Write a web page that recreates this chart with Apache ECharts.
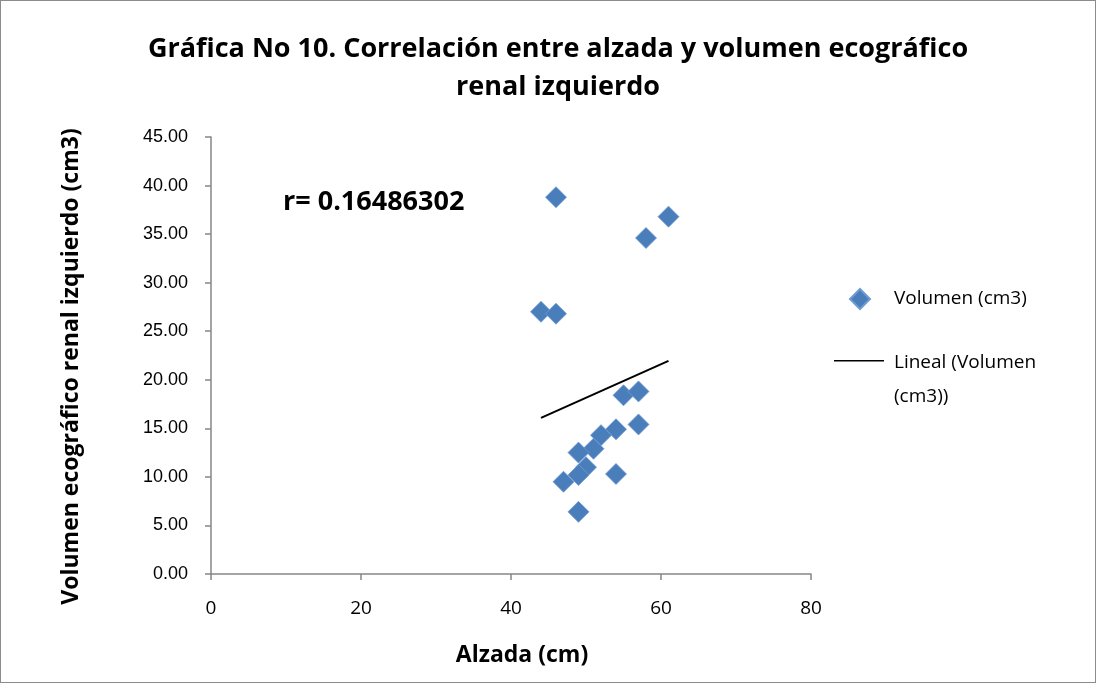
<!DOCTYPE html>
<html>
<head>
<meta charset="utf-8">
<script src="https://cdn.jsdelivr.net/npm/echarts@6/dist/echarts.min.js"></script>
<style>
  html, body { margin: 0; padding: 0; background: #fff; }
  #chart { width: 1096px; height: 683px; box-sizing: border-box; border: 1px solid #8c8c8c; }
</style>
</head>
<body>
<div id="chart"></div>
<script>
// Alzada (cm) and left-kidney ultrasound volume (cm3) per animal
const alzada = [46, 61, 58, 44, 46, 55, 57, 57, 54, 52, 51, 49, 50, 49, 54, 47, 49];
const volumen = [38.8, 36.8, 34.6, 27.0, 26.8, 18.4, 18.8, 15.4, 14.9, 14.3, 12.9, 12.5, 11.0, 10.2, 10.3, 9.5, 6.4];
const rText = 'r= 0.16486302';
const titleLines = ['Gráfica No 10. Correlación entre alzada y volumen ecográfico', 'renal izquierdo'];
const scatterName = 'Volumen (cm3)';
const trendName = 'Lineal (Volumen (cm3))';
const trendLegendLines = ['Lineal (Volumen', '(cm3))'];

const points = alzada.map((x, i) => [x, volumen[i]]);

// Least-squares trend line over the observed alzada range
const n = alzada.length;
const mx = alzada.reduce((a, b) => a + b, 0) / n;
const my = volumen.reduce((a, b) => a + b, 0) / n;
let sxy = 0, sxx = 0;
for (let i = 0; i < n; i++) {
  sxy += (alzada[i] - mx) * (volumen[i] - my);
  sxx += (alzada[i] - mx) ** 2;
}
const slope = sxy / sxx;
const intercept = my - slope * mx;
const xMin = Math.min(...alzada), xMax = Math.max(...alzada);
const trend = [[xMin, intercept + slope * xMin], [xMax, intercept + slope * xMax]];

const font = '"Open Sans", "Noto Sans", sans-serif';
const legendText = { fontFamily: font, fontSize: 19, color: '#000', lineHeight: 34 };
// Legend line icon: the stroke sits on the first text row of a two-row label
const trendIcon = 'path://M0,0L0.01,0L0.01,0.01Z M0,14L50,14L50,15.6L0,15.6Z M50,68L50.01,68L50.01,67.99Z';

const chart = echarts.init(document.getElementById('chart'));
chart.setOption({
  animation: false,
  textStyle: { fontFamily: font },
  title: {
    text: titleLines.join('\n'),
    left: 552,
    textAlign: 'center',
    top: 24,
    textStyle: { fontFamily: font, fontSize: 27, fontWeight: 'bold', color: '#000', lineHeight: 38 }
  },
  grid: { left: 210, right: 284, top: 136, bottom: 108, containLabel: false },
  xAxis: {
    type: 'value', min: 0, max: 80, interval: 20,
    name: 'Alzada (cm)', nameLocation: 'middle', nameGap: 70,
    nameTextStyle: { fontFamily: font, fontSize: 23, fontWeight: 'bold', color: '#000', padding: [0, 0, 0, 22] },
    axisLine: { show: true, lineStyle: { color: '#868686', width: 1.5 } },
    axisTick: { show: true, length: 6, lineStyle: { color: '#868686', width: 1.5 } },
    axisLabel: { fontSize: 19, color: '#000', margin: 25 },
    splitLine: { show: false }
  },
  yAxis: {
    type: 'value', min: 0, max: 45, interval: 5,
    name: 'Volumen ecográfico renal izquierdo (cm3)', nameLocation: 'middle', nameGap: 128, nameRotate: 90,
    nameTextStyle: { fontFamily: font, fontSize: 23, fontWeight: 'bold', color: '#000', padding: [0, 22, 0, 0] },
    axisLine: { show: true, lineStyle: { color: '#868686', width: 1.5 } },
    axisTick: { show: true, length: 6, lineStyle: { color: '#868686', width: 1.5 } },
    axisLabel: { fontFamily: '"Liberation Sans", Arial, sans-serif', fontSize: 18, color: '#000', margin: 23,
      formatter: v => v.toFixed(2) },
    splitLine: { show: false }
  },
  legend: [
    {
      left: 843, top: 276,
      itemWidth: 20, itemHeight: 20, itemGap: 10,
      textStyle: Object.assign({}, legendText, { padding: [0, 0, 0, 19] }),
      data: [{ name: scatterName, icon: 'diamond' }]
    },
    {
      left: 828, top: 340,
      itemWidth: 50, itemHeight: 68, itemGap: 10,
      textStyle: Object.assign({}, legendText, { padding: [0, 0, 0, 5] }),
      formatter: () => trendLegendLines.join('\n'),
      data: [{ name: trendName, icon: trendIcon }]
    }
  ],
  graphic: [{
    type: 'text', left: 282, top: 188,
    style: { text: rText, fontFamily: font, fontSize: 27, fontWeight: 'bold', fill: '#000' }
  }],
  series: [
    {
      name: scatterName, type: 'scatter', symbol: 'diamond', symbolSize: 21,
      itemStyle: { color: '#4a7ebb', opacity: 1, borderColor: '#6f9bd3', borderWidth: 0.8 },
      data: points, z: 3
    },
    {
      name: trendName, type: 'line', symbol: 'none',
      itemStyle: { color: '#000' },
      lineStyle: { color: '#000', width: 2 },
      data: trend, z: 2
    }
  ]
});
</script>
</body>
</html>
